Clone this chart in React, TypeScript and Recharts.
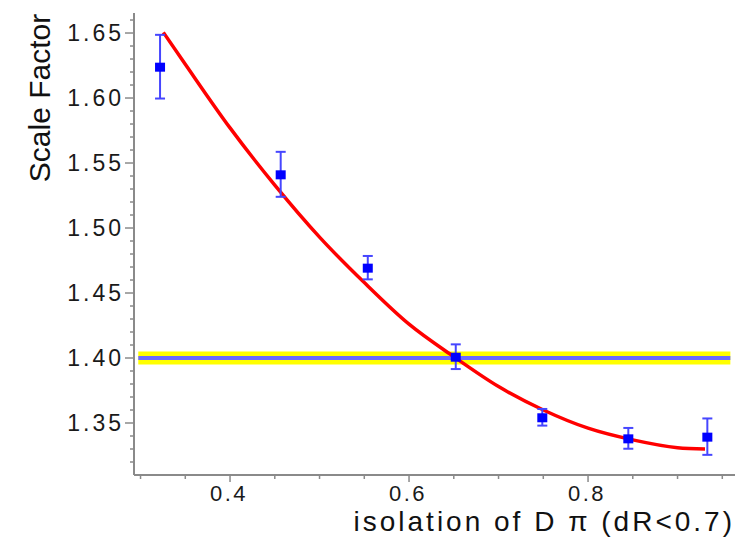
import React from 'react';
import { ComposedChart, XAxis, YAxis, Line, Scatter, ErrorBar } from 'recharts';

// measured points (x, scale factor, error)
const pointX = [0.3218, 0.4566, 0.5539, 0.6522, 0.7489, 0.845, 0.9333];
const pointY = [1.6241, 1.5413, 1.4695, 1.401, 1.3544, 1.3382, 1.3395];
const pointErr = [0.0245, 0.0173, 0.009, 0.0095, 0.0064, 0.008, 0.014];

// red fit curve
const fitX = [0.3255, 0.35, 0.4, 0.45, 0.5, 0.55, 0.6, 0.65, 0.7, 0.75, 0.8, 0.85, 0.9, 0.9307];
const fitY = [1.6505, 1.626, 1.577, 1.533, 1.493, 1.458, 1.426, 1.401, 1.378, 1.36, 1.346, 1.337, 1.331, 1.33];

// constant (mean) line and its band
const meanX = [0.2975, 0.959];
const meanY = [1.4, 1.4];

const xTicks = [0.3, 0.35, 0.4, 0.45, 0.5, 0.55, 0.6, 0.65, 0.7, 0.75, 0.8, 0.85, 0.9, 0.95];
const yTicks = [1.32, 1.33, 1.34, 1.35, 1.36, 1.37, 1.38, 1.39, 1.4, 1.41, 1.42, 1.43, 1.44, 1.45, 1.46, 1.47, 1.48, 1.49, 1.5, 1.51, 1.52, 1.53, 1.54, 1.55, 1.56, 1.57, 1.58, 1.59, 1.6, 1.61, 1.62, 1.63, 1.64, 1.65, 1.66];

const xDomain = [0.2927, 0.9642];
const yDomain = [1.31, 1.6654];

const points = pointX.map((x, i) => ({ x, y: pointY[i], err: pointErr[i] }));
const fit = fitX.map((x, i) => ({ x, y: fitY[i] }));
const mean = meanX.map((x, i) => ({ x, y: meanY[i] }));

const FONT = '"Liberation Sans", Arial, Helvetica, sans-serif';
const AXIS_GRAY = '#8a8a8a';

const XTick = (props: any) => {
  const { x, y, payload } = props;
  const v = payload.value as number;
  const major = Math.round(v * 100) % 20 === 0;
  return (
    <g>
      <line x1={x} x2={x} y1={y - 1} y2={y + (major ? 7 : 4)} stroke={AXIS_GRAY} strokeWidth={1.5} />
      {major && (
        <text x={x - 1} y={y + 26} textAnchor="middle" fontFamily={FONT} fontSize={22} letterSpacing={2.5} fill="#1a1a1a">
          {v.toFixed(1)}
        </text>
      )}
    </g>
  );
};

const YTick = (props: any) => {
  const { x, y, payload } = props;
  const v = payload.value as number;
  const major = Math.round(v * 100) % 5 === 0;
  return (
    <g>
      <line x1={x - (major ? 9 : 4)} x2={x + 1} y1={y} y2={y} stroke={AXIS_GRAY} strokeWidth={1.5} />
      {major && (
        <text x={x - 10} y={y} dy="0.36em" textAnchor="end" fontFamily={FONT} fontSize={23} letterSpacing={3} fill="#1a1a1a">
          {v.toFixed(2)}
        </text>
      )}
    </g>
  );
};

const XLabel = (props: any) => {
  const vb = props.viewBox || { x: 0, y: 0, width: 0 };
  const right = vb.x + vb.width;
  return (
    <text x={right} y={vb.y + 56} textAnchor="end" fontFamily={FONT} fontSize={28} letterSpacing={3} fill="#111">
      isolation of D π (dR&lt;0.7)
    </text>
  );
};

const YLabel = () => {
  const cx = 39;
  const cy = 98;
  return (
    <text x={cx} y={cy} transform={`rotate(-90 ${cx} ${cy})`} textAnchor="middle" dominantBaseline="central" fontFamily={FONT} fontSize={30} fill="#111">
      Scale Factor
    </text>
  );
};

const Square = (props: any) => {
  const { cx, cy } = props;
  if (cx == null || cy == null) return null;
  return <rect x={cx - 5} y={cy - 4} width={10} height={9} fill="#0000ff" />;
};

export default function App() {
  return (
    <div style={{ position: 'absolute', left: 0, top: 0, background: '#fff' }}>
      <ComposedChart width={746} height={537} margin={{ top: 13, right: 11, bottom: 0, left: 0 }}>
        <XAxis
          dataKey="x"
          type="number"
          domain={xDomain}
          ticks={xTicks}
          allowDataOverflow
          height={62}
          tickLine={false}
          tickSize={0}
          tickMargin={0}
          tick={<XTick />}
          axisLine={{ stroke: AXIS_GRAY, strokeWidth: 2 }}
          interval={0}
          label={<XLabel />}
        />
        <XAxis
          xAxisId="top"
          orientation="top"
          dataKey="x"
          type="number"
          domain={xDomain}
          allowDataOverflow
          height={0}
          tick={false}
          tickLine={false}
          axisLine={{ stroke: '#333', strokeWidth: 2 }}
        />
        <YAxis
          dataKey="y"
          type="number"
          domain={yDomain}
          ticks={yTicks}
          allowDataOverflow
          width={134}
          tickLine={false}
          tickSize={0}
          tickMargin={0}
          tick={<YTick />}
          axisLine={{ stroke: AXIS_GRAY, strokeWidth: 2 }}
          interval={0}
          label={<YLabel />}
        />
        <YAxis
          yAxisId="right"
          orientation="right"
          dataKey="y"
          type="number"
          domain={yDomain}
          allowDataOverflow
          width={0}
          tick={false}
          tickLine={false}
          axisLine={{ stroke: '#444', strokeWidth: 3 }}
        />
        <Line data={mean} dataKey="y" type="linear" stroke="#ffff00" strokeWidth={13} dot={false} isAnimationActive={false} strokeLinecap="butt" />
        <Line data={mean} dataKey="y" type="linear" stroke="#6b6bff" strokeWidth={4} dot={false} isAnimationActive={false} strokeLinecap="butt" />
        <Line data={fit} dataKey="y" type="monotone" stroke="#ff0000" strokeWidth={3.5} dot={false} isAnimationActive={false} />
        <Scatter data={points} dataKey="y" fill="#0000ff" shape={<Square />} isAnimationActive={false}>
          <ErrorBar dataKey="err" direction="y" width={5} stroke="#4646ff" strokeWidth={2} isAnimationActive={false} />
        </Scatter>
      </ComposedChart>
    </div>
  );
}
